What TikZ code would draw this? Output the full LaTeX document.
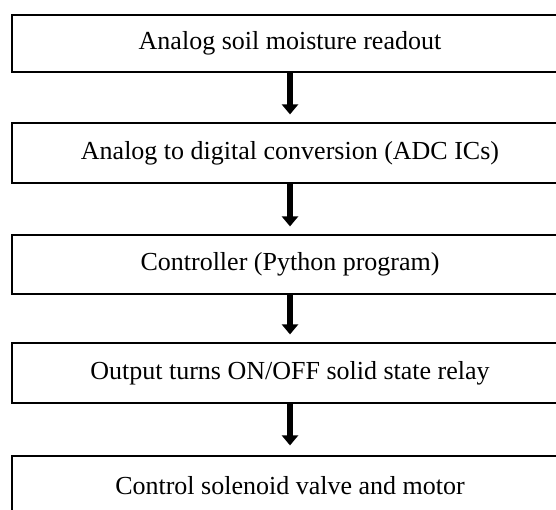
\documentclass[tikz,border=0pt]{standalone}
\usepackage{fontspec}
\setmainfont{Liberation Serif}
\usetikzlibrary{arrows.meta}
\begin{document}
\begin{tikzpicture}[x=1pt,y=-1pt,
  stepbox/.style={draw=black, line width=1.2pt, minimum width=556pt, minimum height=58pt,
    inner sep=0pt, font=\fontsize{26}{30}\selectfont, anchor=center},
  flowarrow/.style={line width=5.5pt, -{Triangle[width=16pt,length=10pt]}}]
\useasboundingbox (0,0) rectangle (556,510);
\clip (0,0) rectangle (556,510);
\fill[white] (0,0) rectangle (556,510);
\node[stepbox, minimum height=57pt] (b1) at (290,43.5) {Analog soil moisture readout};
\node[stepbox, minimum height=60pt] (b2) at (290,153) {Analog to digital conversion (ADC ICs)};
\node[stepbox, minimum height=59pt] (b3) at (290,264.5) {Controller (Python program)};
\node[stepbox, minimum height=60pt] (b4) at (290,373) {Output turns ON/OFF solid state relay};
\node[stepbox, minimum height=59pt] (b5) at (290,485.5) {Control solenoid valve and motor};
\draw[flowarrow] (b1.south) -- ([yshift=8pt]b2.north);
\draw[flowarrow] (b2.south) -- ([yshift=8pt]b3.north);
\draw[flowarrow] (b3.south) -- ([yshift=8pt]b4.north);
\draw[flowarrow] (b4.south) -- ([yshift=10pt]b5.north);
\end{tikzpicture}
\end{document}
